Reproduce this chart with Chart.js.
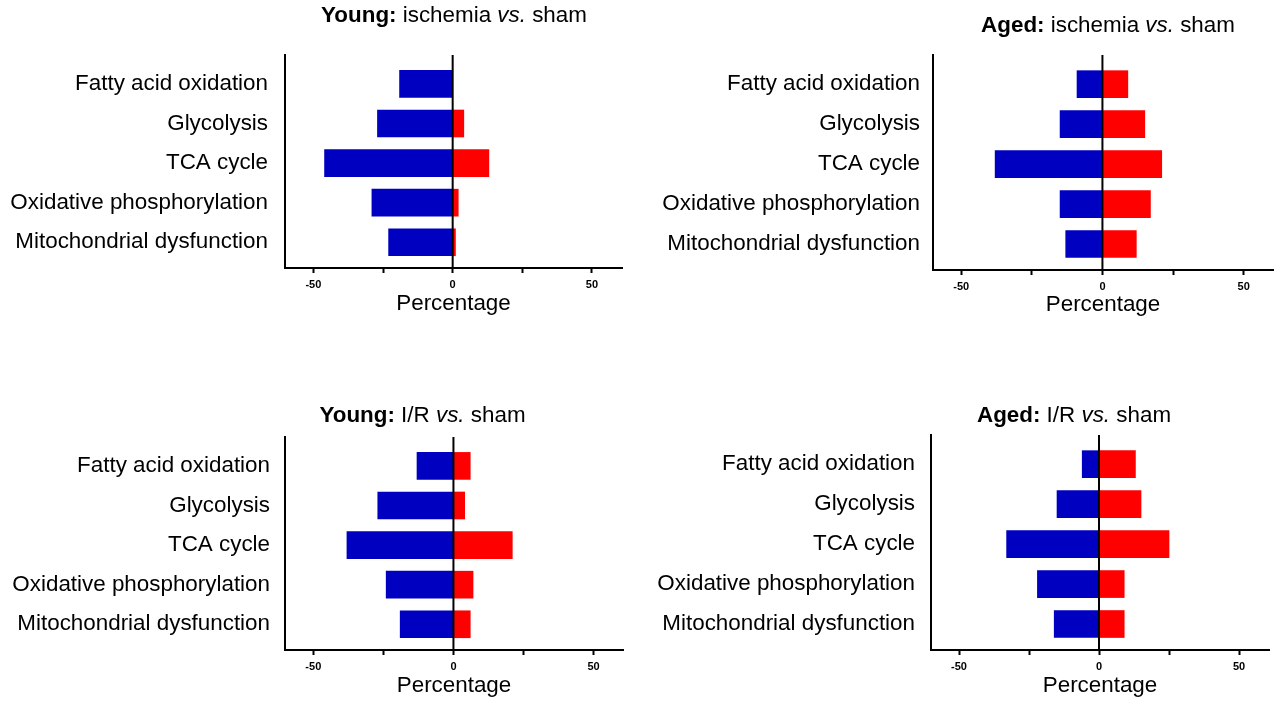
<!DOCTYPE html>
<html><head><meta charset="utf-8">
<script src="https://cdn.jsdelivr.net/npm/chart.js@4"></script>
<style>
html,body{margin:0;padding:0;background:#fff;width:1277px;height:702px;overflow:hidden}
canvas{position:absolute;display:block}
</style></head><body>
<canvas id="k1" width="640" height="330" style="left:0;top:0;width:640px;height:330px"></canvas>
<canvas id="k2" width="637" height="330" style="left:640px;top:0;width:637px;height:330px"></canvas>
<canvas id="k3" width="640" height="322" style="left:0;top:380px;width:640px;height:322px"></canvas>
<canvas id="k4" width="637" height="322" style="left:640px;top:380px;width:637px;height:322px"></canvas>
<script>
const categories = ['Fatty acid oxidation','Glycolysis','TCA cycle','Oxidative phosphorylation','Mitochondrial dysfunction'];
const tickValues = [-50,-25,0,25,50];
const tickLabels = ['-50','','0','','50'];
const axisTitle = 'Percentage';

const youngIschemiaDown = [-19,-27,-46,-29,-23];
const youngIschemiaUp   = [0,4,13,2,1];
const agedIschemiaDown  = [-9,-15,-38,-15,-13];
const agedIschemiaUp    = [9,15,21,17,12];
const youngIRDown       = [-13,-27,-38,-24,-19];
const youngIRUp         = [6,4,21,7,6];
const agedIRDown        = [-6,-15,-33,-22,-16];
const agedIRUp          = [13,15,25,9,9];

const titleYoungIsch = [['Young:','bold'],[' ischemia ',''],['vs.','italic'],[' sham','']];
const titleAgedIsch  = [['Aged:','bold'],[' ischemia ',''],['vs.','italic'],[' sham','']];
const titleYoungIR   = [['Young:','bold'],[' I/R ',''],['vs.','italic'],[' sham','']];
const titleAgedIR    = [['Aged:','bold'],[' I/R ',''],['vs.','italic'],[' sham','']];

const FAM = "'Liberation Sans', Arial, Helvetica, sans-serif";
const FS = 22.4;

const decor = {
  id: 'decor',
  afterDatasetsDraw(chart) {
    const ctx = chart.ctx, a = chart.chartArea;
    const x0 = chart.scales.x.getPixelForValue(0);
    ctx.save();
    ctx.strokeStyle = '#000'; ctx.lineWidth = 2;
    ctx.beginPath(); ctx.moveTo(x0, a.top); ctx.lineTo(x0, a.bottom); ctx.stroke();
    ctx.restore();
  },
  afterDraw(chart, args, o) {
    const ctx = chart.ctx, a = chart.chartArea;
    ctx.save();
    ctx.fillStyle = '#000';
    ctx.textBaseline = 'alphabetic';
    let total = 0;
    const parts = o.title.map(([t, s]) => {
      const f = (s ? s + ' ' : '') + FS + 'px ' + FAM;
      ctx.font = f; const w = ctx.measureText(t).width; total += w;
      return {t, f, w};
    });
    let x = o.tx - total / 2;
    ctx.textAlign = 'left';
    parts.forEach(p => { ctx.font = p.f; ctx.fillText(p.t, x, o.ty); x += p.w; });
    ctx.font = FS + 'px ' + FAM;
    ctx.textAlign = 'center';
    ctx.fillText(axisTitle, (a.left + a.right) / 2, a.bottom + o.pb);
    ctx.restore();
  }
};

function makePanel(id, down, up, c) {
  new Chart(document.getElementById(id), {
    type: 'bar',
    data: { datasets: [
      { data: down.map((v, i) => ({x: v, y: i})), backgroundColor: '#0000C0', barThickness: 27 },
      { data: up.map((v, i) => ({x: v, y: i})), backgroundColor: '#FF0000', barThickness: 27 }
    ]},
    options: {
      indexAxis: 'y', responsive: false, animation: false, devicePixelRatio: 1,
      layout: { padding: { top: c.padTop, right: c.padRight, left: 0, bottom: 0 } },
      plugins: { legend: {display: false}, tooltip: {enabled: false}, decor: c.decor },
      scales: {
        x: {
          type: 'linear', stacked: true, min: c.xmin, max: c.xmax, offset: false,
          afterFit: s => { s.height = c.xH; },
          afterBuildTicks: s => { s.ticks = tickValues.map(v => ({value: v})); },
          ticks: { autoSkip: false, maxRotation: 0, color: '#000', padding: 5,
                   font: { family: FAM, size: 11, weight: 'bold' },
                   callback: v => tickLabels[tickValues.indexOf(v)] },
          grid: { drawOnChartArea: false, drawTicks: true, tickLength: 5, tickColor: '#000', tickWidth: 2, color: '#000' },
          border: { color: '#000', width: 2 }
        },
        y: {
          type: 'linear', stacked: true, reverse: true, min: -0.73, max: 4.65, offset: false,
          afterFit: s => { s.width = c.yW; },
          afterBuildTicks: s => { s.ticks = categories.map((t, i) => ({value: i})); },
          ticks: { autoSkip: false, color: '#000', padding: c.labPad,
                   font: { family: FAM, size: FS },
                   callback: v => categories[v] },
          grid: { drawOnChartArea: false, drawTicks: false, offset: false },
          border: { color: '#000', width: 2 }
        }
      }
    },
    plugins: [decor]
  });
}

makePanel('k1', youngIschemiaDown, youngIschemiaUp,
  { padTop: 55, padRight: 18, xH: 62, yW: 285, labPad: 17, xmin: -60.2, xmax: 60.8,
    decor: { title: titleYoungIsch, tx: 454, ty: 22, pb: 42 } });
makePanel('k2', agedIschemiaDown, agedIschemiaUp,
  { padTop: 55, padRight: 4, xH: 60, yW: 293, labPad: 13, xmin: -60, xmax: 60.4,
    decor: { title: titleAgedIsch, tx: 468, ty: 32, pb: 41 } });
makePanel('k3', youngIRDown, youngIRUp,
  { padTop: 57, padRight: 17, xH: 52, yW: 285, labPad: 15, xmin: -60.1, xmax: 60.5,
    decor: { title: titleYoungIR, tx: 422.5, ty: 42, pb: 42 } });
makePanel('k4', agedIRDown, agedIRUp,
  { padTop: 55, padRight: 8, xH: 52, yW: 291, labPad: 16, xmin: -60, xmax: 60.7,
    decor: { title: titleAgedIR, tx: 434, ty: 42, pb: 42 } });
</script>
</body></html>
